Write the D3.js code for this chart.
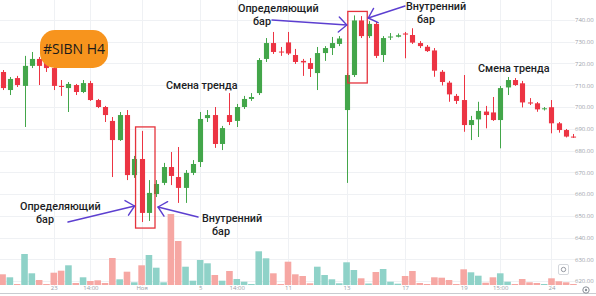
<!DOCTYPE html>
<html>
<head>
<meta charset="utf-8">
<script src="https://cdn.jsdelivr.net/npm/d3@7"></script>
<style>
  html, body { margin: 0; padding: 0; background: #fff; }
  svg { display: block; font-family: "Open Sans", "Noto Sans", sans-serif; }
</style>
</head>
<body>
<svg id="chart" width="596" height="296"></svg>
<script>
// SIBN, 4-hour candles
const opens = [
  716.1, 707.8, 713.3, 709.7, 718.9, 722.1, 720.7, 717.9, 709.7, 708.7,
  710.1, 706.9, 711.0, 703.2, 700.0, 693.6, 684.8, 696.3, 668.7, 676.1,
  651.3, 660.0, 665.1, 672.4, 667.8, 662.8, 669.7, 674.7, 694.9, 696.3,
  683.0, 696.3, 693.6, 700.0, 703.7, 706.4, 722.1, 729.4, 725.5, 729.7,
  723.9, 721.2, 720.2, 715.6, 724.8, 727.1, 729.0, 698.6, 714.7, 739.8,
  732.6, 738.2, 723.9, 732.1, 732.3, 733.8, 733.1, 729.4, 727.7, 726.0,
  716.2, 711.2, 705.1, 703.2, 691.7, 694.3, 697.9, 697.5, 694.0, 709.0,
  712.4, 710.9, 702.1, 701.7, 699.1, 699.9, 692.5, 689.4, 686.4
];
const highs = [
  717.0, 713.8, 714.3, 723.5, 725.3, 723.0, 722.5, 718.9, 712.4, 711.5,
  710.6, 712.4, 712.0, 703.7, 700.5, 695.4, 697.7, 698.6, 677.5, 689.0,
  666.4, 666.4, 674.3, 679.3, 681.6, 671.0, 675.6, 697.7, 698.6, 700.0,
  691.3, 706.4, 701.4, 705.1, 706.4, 722.5, 731.7, 734.5, 727.6, 734.5,
  726.7, 722.1, 722.5, 727.6, 728.0, 732.2, 732.6, 715.6, 742.1, 741.8,
  739.5, 739.1, 732.6, 734.0, 733.8, 734.5, 736.2, 730.3, 728.5, 727.1,
  717.0, 712.0, 706.0, 714.7, 695.9, 702.4, 700.5, 704.6, 709.7, 713.8,
  713.3, 712.0, 704.1, 702.3, 700.0, 703.2, 693.1, 689.9, 687.6
];
const lows = [
  707.8, 705.5, 709.2, 690.8, 717.9, 710.1, 716.1, 707.8, 705.1, 697.7,
  705.5, 706.4, 702.8, 699.5, 693.1, 667.8, 684.4, 666.4, 667.4, 647.1,
  647.6, 658.6, 664.1, 664.1, 655.9, 655.9, 668.7, 672.4, 693.1, 681.2,
  680.2, 691.7, 690.8, 699.1, 702.8, 705.5, 720.7, 724.4, 723.5, 723.9,
  719.8, 714.3, 713.8, 707.8, 721.2, 723.9, 728.0, 665.1, 713.8, 731.7,
  731.7, 722.5, 720.7, 730.8, 732.0, 722.4, 729.0, 727.1, 725.3, 713.9,
  709.9, 702.4, 701.4, 688.6, 684.8, 686.2, 690.2, 693.6, 681.0, 705.5,
  709.7, 699.8, 700.9, 697.8, 698.4, 687.9, 688.2, 686.0, 685.8
];
const closes = [
  708.7, 712.9, 710.1, 718.9, 722.1, 718.9, 717.9, 709.7, 709.2, 710.6,
  706.9, 711.0, 703.2, 700.0, 696.3, 684.8, 696.3, 668.7, 676.1, 651.3,
  660.5, 664.6, 672.4, 668.3, 662.8, 669.7, 673.8, 694.5, 696.3, 683.0,
  690.3, 693.1, 700.0, 703.7, 704.6, 721.6, 729.4, 725.3, 725.3, 724.6,
  720.7, 720.5, 717.5, 724.8, 727.1, 729.4, 731.5, 714.7, 739.8, 732.6,
  738.2, 723.5, 731.7, 732.4, 733.0, 733.3, 729.6, 728.0, 725.7, 716.7,
  711.5, 705.8, 702.8, 691.7, 694.0, 698.2, 696.3, 694.0, 708.7, 712.4,
  710.1, 702.1, 701.6, 698.9, 699.4, 692.5, 689.4, 686.4, 686.1
];
const volumes = [
  107, 77, 10, 310, 117, 50, 10, 123, 143, 197,
  20, 77, 40, 47, 20, 270, 57, 133, 27, 197,
  300, 173, 27, 710, 440, 183, 43, 250, 217, 100,
  43, 140, 60, 33, 10, 337, 267, 117, 10, 233,
  107, 90, 17, 183, 100, 57, 17, 227, 150, 67,
  15, 130, 160, 33, 13, 90, 140, 20, 10, 77,
  73, 50, 10, 157, 127, 93, 23, 77, 117, 33,
  10, 60, 27, 20, 10, 67, 37, 27, 10
];
const priceTicks = [740, 730, 720, 710, 700, 690, 680, 670, 660, 650, 640, 630, 620];
const timeTickBars = [7, 12, 19, 27, 32, 39, 47, 55, 63, 68, 75];
const timeTickLabels = ["23", "14:00", "Ноя", "5", "14:00", "11", "13", "17", "19", "15:00", "24"];

// bars highlighted as "defining bar" + "inside bar" pairs
const setupPairs = [[19, 20], [48, 49]];

const W = 596, H = 296;
const plotRight = 575;
const svg = d3.select("#chart");

const candles = opens.map((o, i) => ({
  i, open: o, high: highs[i], low: lows[i], close: closes[i], vol: volumes[i],
  up: closes[i] >= o
}));

const x = d3.scaleBand().domain(d3.range(candles.length)).range([0, plotRight + 1]).paddingInner(0.3);
const cx = i => x(i) + x.bandwidth() / 2;
const y = d3.scaleLinear().domain([620, 740]).range([281, 20]);
const yVol = d3.scaleLinear().domain([0, 1000]).range([285, 185]);

const GREEN = "#43a64a", RED = "#ec3443";
const VGREEN = "#8fd2c8", VRED = "#f6a7a3";

// grid
const grid = svg.append("g");
grid.selectAll("line.h").data(priceTicks).join("line")
  .attr("x1", 0).attr("x2", plotRight)
  .attr("y1", d => Math.round(y(d)) + 0.5).attr("y2", d => Math.round(y(d)) + 0.5)
  .attr("stroke", "#eff1f4").attr("stroke-width", 1);
grid.selectAll("line.v").data(timeTickBars).join("line")
  .attr("x1", d => Math.round(cx(d)) + 0.5).attr("x2", d => Math.round(cx(d)) + 0.5)
  .attr("y1", 0).attr("y2", 286)
  .attr("stroke", "#eff1f4").attr("stroke-width", 1);

// volume
const vstep = x.step();
svg.append("g").selectAll("rect").data(candles).join("rect")
  .attr("x", d => cx(d.i) - vstep * 0.45)
  .attr("width", vstep * 0.9)
  .attr("y", d => yVol(d.vol))
  .attr("height", d => yVol(0) - yVol(d.vol))
  .attr("fill", d => d.up ? VGREEN : VRED);

// candles
const cg = svg.append("g");
cg.selectAll("line").data(candles).join("line")
  .attr("x1", d => Math.round(cx(d.i)) + 0.5).attr("x2", d => Math.round(cx(d.i)) + 0.5)
  .attr("y1", d => y(d.high)).attr("y2", d => y(d.low))
  .attr("stroke", d => d.up ? GREEN : RED).attr("stroke-width", 1);
cg.selectAll("rect").data(candles).join("rect")
  .attr("x", d => Math.round(cx(d.i)) + 0.5 - x.bandwidth() / 2)
  .attr("width", x.bandwidth())
  .attr("y", d => y(Math.max(d.open, d.close)))
  .attr("height", d => Math.max(1, Math.abs(y(d.open) - y(d.close))))
  .attr("fill", d => d.up ? GREEN : RED);

// highlight frames around each setup
const frames = setupPairs.map(([a, b]) => {
  const hi = Math.max(highs[a], highs[b]);
  const lo = Math.min(lows[a], lows[b]);
  return {
    x0: x(a) - 3.5, x1: x(b) + x.bandwidth() + 3.5,
    y0: y(hi) - 4, y1: y(lo) + 6
  };
});
svg.append("g").selectAll("rect").data(frames).join("rect")
  .attr("x", d => d.x0).attr("y", d => d.y0)
  .attr("width", d => d.x1 - d.x0).attr("height", d => d.y1 - d.y0)
  .attr("fill", "none").attr("stroke", "#e5333c").attr("stroke-width", 1.3);

// arrows
const PURPLE = "#5c3fd0";
function arrow(x0, y0, x1, y1) {
  const g = svg.append("g").attr("stroke", PURPLE).attr("stroke-width", 1.4)
    .attr("fill", "none").attr("stroke-linecap", "round");
  g.append("line").attr("x1", x0).attr("y1", y0).attr("x2", x1).attr("y2", y1);
  const ang = Math.atan2(y1 - y0, x1 - x0);
  const len = 11, spread = 0.75;
  const p = [
    [x1 - len * Math.cos(ang - spread), y1 - len * Math.sin(ang - spread)],
    [x1, y1],
    [x1 - len * Math.cos(ang + spread), y1 - len * Math.sin(ang + spread)]
  ];
  g.append("path").attr("d", d3.line()(p)).attr("stroke-linejoin", "round");
}
const fL = frames[0], fR = frames[1];
arrow(68, 222, fL.x0 - 1, 206);
arrow(198, 217, fL.x1 + 3, 207);
arrow(272, 20, fR.x0 - 1, 25);
arrow(405, 6, fR.x1 + 1, 18);

// annotation texts: each note is one text block, second line indented
const notes = [
  { x: 20, y: 210, lines: ["Определяющий", "бар"], indent: 16 },
  { x: 202, y: 222, lines: ["Внутренний", "бар"], indent: 10 },
  { x: 238, y: 12, lines: ["Определяющий", "бар"], indent: 15 },
  { x: 406, y: 10, lines: ["Внутренний", "бар"], indent: 11 },
  { x: 166, y: 89, lines: ["Смена тренда"], indent: 0 },
  { x: 478, y: 72, lines: ["Смена тренда"], indent: 0 }
];
const noteText = svg.append("g").selectAll("text").data(notes).join("text")
  .attr("x", d => d.x).attr("y", d => d.y)
  .attr("font-family", "Roboto, 'Open Sans', sans-serif")
  .attr("font-size", 10.8).attr("font-weight", 500).attr("fill", "#1b1d24");
noteText.each(function (d) {
  const t = d3.select(this);
  d.lines.forEach((line, k) => {
    t.append("tspan")
      .attr("x", d.x + (k > 0 ? d.indent : 0))
      .attr("dy", k === 0 ? 0 : 12.8)
      .text(line);
  });
});

// ticker badge
const badge = svg.append("g");
badge.append("rect").attr("x", 40).attr("y", 30).attr("width", 68).attr("height", 38)
  .attr("rx", 15).attr("fill", "#f7941d");
badge.append("text").attr("x", 74).attr("y", 54).attr("text-anchor", "middle")
  .attr("font-size", 14).attr("fill", "#1a1a1a").text("#SIBN H4");

// price scale
const yAxis = d3.axisRight(y).tickValues(priceTicks).tickSize(0).tickPadding(0)
  .tickFormat(d3.format(".2f"));
svg.append("g").attr("transform", `translate(${plotRight},0)`).call(yAxis)
  .call(g => g.select(".domain").remove())
  .call(g => g.selectAll("text").attr("font-size", 6).attr("fill", "#9aa0a8")
    .attr("font-family", "'Open Sans', sans-serif"));

// time scale
const xPos = d3.scalePoint().domain(d3.range(candles.length)).range([cx(0), cx(candles.length - 1)]);
const xAxis = d3.axisBottom(xPos).tickValues(timeTickBars).tickSize(0).tickPadding(0)
  .tickFormat(d => timeTickLabels[timeTickBars.indexOf(d)]);
svg.append("g").attr("transform", "translate(0,286)").call(xAxis)
  .call(g => g.select(".domain").remove())
  .call(g => g.selectAll("text").attr("font-size", 6).attr("fill", "#9aa0a8")
    .attr("font-family", "'Open Sans', sans-serif"));

// bottom border
svg.append("line").attr("x1", 0).attr("x2", W).attr("y1", 293.5).attr("y2", 293.5)
  .attr("stroke", "#c9ccd1").attr("stroke-width", 1);

// scroll-to-latest button and settings gear
const btn = svg.append("g");
btn.append("rect").attr("x", 558.5).attr("y", 264.5).attr("width", 10).attr("height", 10).attr("rx", 1.5)
  .attr("fill", "#fff").attr("stroke", "#d4d7dc");
btn.append("circle").attr("cx", 563.5).attr("cy", 269.5).attr("r", 2.2).attr("fill", "none").attr("stroke", "#7d828b").attr("stroke-width", 0.8);
const gear = svg.append("g");
gear.append("circle").attr("cx", 586).attr("cy", 290).attr("r", 3.2).attr("fill", "none").attr("stroke", "#8a8f98").attr("stroke-width", 1);
gear.append("circle").attr("cx", 586).attr("cy", 290).attr("r", 1.2).attr("fill", "#8a8f98");
</script>
</body>
</html>
